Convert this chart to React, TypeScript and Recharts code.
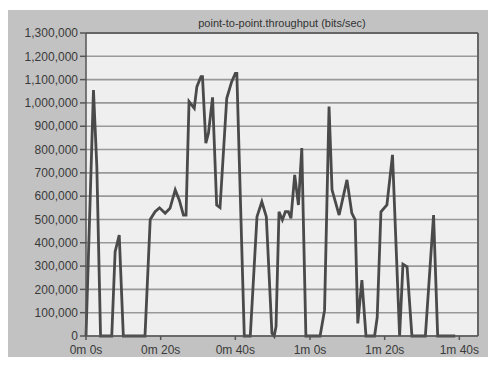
import React from "react";
import {
  LineChart, Line, XAxis, YAxis, CartesianGrid, ReferenceLine,
} from "recharts";

// sample times in seconds and measured throughput in bits/sec
const times = [
  0, 2, 2.9, 3.9, 6.9, 7.8, 8.9, 10, 15.8, 17.2, 18.5, 19.7, 21.2, 22.5, 23.9,
  25.0, 26.1, 26.8, 27.6, 29.0, 29.7, 30.8, 31.2, 32.1, 32.8, 33.9, 35.0, 35.9,
  37.7, 39.0, 40.0, 40.4, 42.4, 44.0, 45.8, 47.1, 48.3, 49.8, 50.4, 50.9, 51.7,
  52.6, 53.4, 54.2, 54.9, 55.9, 56.9, 57.8, 58.9, 62.7, 63.9, 65.1, 65.9, 67.8,
  69.9, 71.2, 72.1, 72.8, 73.9, 75.0, 77.3, 78.0, 79.0, 80.6, 82.1, 84.0, 84.9,
  86.0, 87.3, 90.9, 93.1, 94.2, 98.9,
];
const throughput = [
  0, 1055000, 727000, 0, 0, 362000, 433000, 0, 0, 500000, 533000, 550000, 527000, 548000, 627000,
  583000, 519000, 519000, 1006000, 977000, 1070000, 1113000, 1113000, 827000, 870000, 1024000, 562000, 551000,
  1020000, 1090000, 1127000, 1127000, 0, 0, 512000, 576000, 512000, 12000, 0, 40000, 533000,
  498000, 533000, 533000, 505000, 691000, 562000, 806000, 0, 0, 111000, 984000, 627000, 519000,
  670000, 527000, 498000, 54000, 240000, 0, 0, 80000, 533000, 562000, 777000, 0, 308000,
  297000, 0, 0, 519000, 0, 0,
];
const yTicks = [
  0, 100000, 200000, 300000, 400000, 500000, 600000, 700000,
  800000, 900000, 1000000, 1100000, 1200000, 1300000,
];
const xTicks = [0, 20, 40, 60, 80, 100];
const xTickLabels = ["0m 0s", "0m 20s", "0m 40s", "1m 0s", "1m 20s", "1m 40s"];

const data = times.map((t, i) => ({ t, v: throughput[i] }));

const font = "'Liberation Sans', Arial, sans-serif";
const tickStyle = { fill: "#3a3a3a", fontSize: 12, fontFamily: font };

export default function App() {
  return (
    <div style={{ position: "relative", width: 496, height: 365, margin: -8, background: "#fff" }}>
      <div
        style={{
          position: "absolute", left: 5, top: 10, width: 490, height: 353,
          background: "#c2c2c2",
        }}
      />
      <div
        style={{
          position: "absolute", left: 86, top: 16, width: 392, textAlign: "center",
          fontFamily: font, fontSize: 11, color: "#333", lineHeight: "14px",
        }}
      >
        point-to-point.throughput (bits/sec)
      </div>
      <div style={{ position: "absolute", left: 0, top: 0 }}>
        <LineChart
          width={496}
          height={365}
          data={data}
          margin={{ top: 33, right: 18, bottom: 0, left: 0 }}
        >
          <CartesianGrid
            vertical={false}
            fill="#efefef"
            stroke="#999"
            strokeWidth={1.6}
          />
          <XAxis
            dataKey="t"
            type="number"
            domain={[0, 105]}
            ticks={xTicks}
            tickFormatter={(v: number) => xTickLabels[xTicks.indexOf(v)]}
            height={29}
            tickSize={4}
            tickMargin={5}
            stroke="#555"
            strokeWidth={1.5}
            tick={tickStyle}
          />
          <YAxis
            type="number"
            domain={[0, 1300000]}
            ticks={yTicks}
            tickFormatter={(v: number) => v.toLocaleString("en-US")}
            width={86}
            tickSize={6}
            tickMargin={2}
            stroke="#555"
            strokeWidth={1.5}
            tick={tickStyle}
          />
          <ReferenceLine y={1300000} stroke="#666" strokeWidth={2} />
          <ReferenceLine x={105} stroke="#666" strokeWidth={2} />
          <Line
            type="linear"
            dataKey="v"
            stroke="#4a4a4a"
            strokeWidth={2.8}
            dot={false}
            isAnimationActive={false}
          />
        </LineChart>
      </div>
    </div>
  );
}
